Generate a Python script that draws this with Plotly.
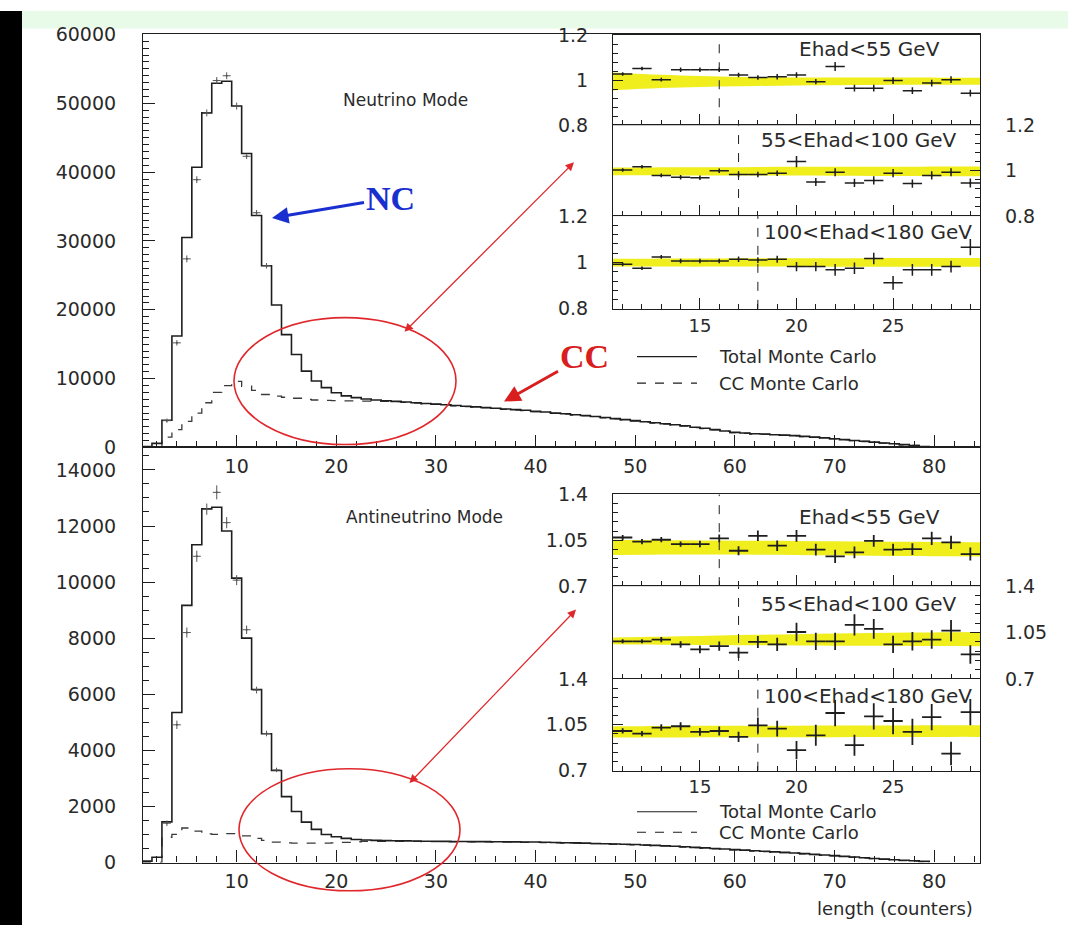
import plotly.graph_objects as go

W, H = 1068, 936


def px(x):
    return x / W


def py(y):
    return 1 - y / H


# ---------------- data ----------------
bins = list(range(1, 80))

top_total = [150, 600, 3950, 16200, 30500, 40700, 48600, 52900, 53200, 49600,
             42700, 33700, 26400, 20700, 16400, 13500, 11100, 9650, 8700, 7950,
             7500, 7250, 7050, 6900, 6800, 6700, 6600, 6500, 6400, 6300,
             6200, 6100, 6000, 5900, 5800, 5700, 5600, 5500, 5400, 5250,
             5150, 5000, 4900, 4750, 4650, 4500, 4350, 4200, 4050, 3900,
             3750, 3600, 3450, 3300, 3150, 2950, 2800, 2600, 2400, 2200,
             2100, 2000, 1950, 1850, 1800, 1720, 1620, 1500, 1400, 1270,
             1150, 1020, 900, 780, 660, 540, 420, 300, 150]

top_cc = [0, 100, 1500, 2600, 3800, 5000, 6500, 8000, 9000, 9600,
          8900, 8300, 7700, 7450, 7300, 7150, 7000, 6900, 6850, 6800,
          6780, 6760, 6740, 6720, 6700, 6650, 6550, 6450, 6350, 6250,
          6150, 6050, 5950, 5850, 5750, 5650, 5550, 5450, 5350, 5200,
          5100, 4950, 4850, 4700, 4600, 4450, 4300, 4150, 4000, 3850,
          3700, 3550, 3400, 3250, 3100, 2900, 2750, 2550, 2350, 2150,
          2050, 1950, 1900, 1800, 1750, 1680, 1580, 1460, 1360, 1240,
          1120, 990, 870, 750, 640, 520, 400, 290, 140]

bot_total = [50, 185, 1450, 5350, 9170, 11330, 12610, 12670, 11820, 10140,
             8000, 6170, 4590, 3280, 2350, 1820, 1440, 1180, 1000, 920,
             860, 820, 800, 790, 780, 775, 770, 765, 760, 760,
             755, 750, 750, 745, 745, 740, 740, 735, 730, 730,
             720, 715, 705, 700, 690, 680, 670, 660, 650, 640,
             625, 610, 595, 580, 560, 540, 520, 500, 480, 460,
             440, 420, 400, 380, 360, 340, 315, 290, 265, 245,
             220, 195, 170, 145, 120, 100, 80, 60, 40]

bot_cc = [0, 0, 900, 1000, 1230, 1120, 1020, 1000, 1030, 1030,
          950, 860, 790, 730, 700, 690, 690, 690, 690, 700,
          720, 740, 750, 750, 750, 750, 750, 750, 745, 745,
          740, 740, 740, 735, 735, 730, 730, 725, 720, 720,
          710, 705, 695, 690, 680, 670, 660, 650, 640, 630,
          615, 600, 585, 570, 550, 530, 510, 490, 470, 450,
          430, 410, 390, 370, 350, 330, 305, 280, 255, 235,
          210, 185, 160, 135, 110, 90, 70, 50, 30]

top_data_bins = [3, 4, 5, 6, 7, 8, 9, 10, 11, 12, 13]
top_data = [3900, 15200, 27400, 38900, 48600, 53300, 54000, 49600, 42300, 34100, 26400]
top_data_err = [300, 400, 500, 500, 500, 500, 500, 500, 400, 400, 400]

bot_data_bins = [3, 4, 5, 6, 7, 8, 9, 10, 11, 12, 13, 14]
bot_data = [1400, 4910, 8200, 10920, 12600, 13200, 12120, 10070, 8300, 6150, 4600, 3300]
bot_data_err = [100, 150, 180, 200, 200, 250, 200, 180, 150, 120, 100, 80]

# ratio insets (data / MC)
ratio_bins = list(range(11, 30))

nu_low = [1.028, 1.053, 1.003, 1.047, 1.047, 1.047, 1.024, 1.013, 1.016, 1.024,
          0.994, 1.062, 0.965, 0.965, 0.999, 0.954, 0.988, 1.003, 0.943]
nu_low_err = [0.008, 0.008, 0.008, 0.01, 0.01, 0.01, 0.01, 0.01, 0.012, 0.012,
              0.012, 0.02, 0.015, 0.015, 0.015, 0.015, 0.015, 0.015, 0.015]
nu_mid = [1.003, 1.017, 0.979, 0.971, 0.969, 1.0, 0.983, 0.983, 0.989, 1.04,
          0.95, 0.993, 0.946, 0.957, 0.989, 0.943, 0.979, 0.993, 0.946]
nu_mid_err = [0.008, 0.008, 0.008, 0.01, 0.01, 0.01, 0.012, 0.012, 0.012, 0.025,
              0.018, 0.018, 0.018, 0.018, 0.018, 0.018, 0.018, 0.018, 0.02]
nu_high = [0.992, 0.975, 1.024, 1.006, 1.006, 1.006, 1.014, 1.01, 1.014, 0.982,
           0.982, 0.968, 0.975, 1.017, 0.912, 0.968, 0.968, 0.982, 1.066]
nu_high_err = [0.008, 0.008, 0.008, 0.01, 0.01, 0.01, 0.012, 0.012, 0.015, 0.02,
               0.02, 0.025, 0.025, 0.025, 0.03, 0.025, 0.025, 0.025, 0.035]

anu_low = [1.071, 1.039, 1.054, 1.021, 1.021, 1.064, 0.970, 1.084, 1.009, 1.084,
           0.978, 0.927, 0.958, 1.046, 0.978, 0.983, 1.064, 1.034, 0.945]
anu_low_err = [0.02, 0.02, 0.02, 0.02, 0.025, 0.03, 0.035, 0.04, 0.04, 0.045,
               0.045, 0.05, 0.045, 0.045, 0.045, 0.045, 0.05, 0.05, 0.05]
anu_mid = [0.984, 0.984, 0.997, 0.96, 0.923, 0.947, 0.898, 0.979, 0.96, 1.054,
           0.984, 0.984, 1.108, 1.078, 0.96, 0.984, 0.997, 1.064, 0.885]
anu_mid_err = [0.015, 0.015, 0.02, 0.025, 0.03, 0.035, 0.04, 0.045, 0.05, 0.07,
               0.065, 0.065, 0.08, 0.075, 0.065, 0.07, 0.07, 0.08, 0.07]
anu_high = [1.003, 0.983, 1.029, 1.039, 0.996, 1.003, 0.958, 1.046, 1.021, 0.857,
            0.97, 1.14, 0.895, 1.114, 1.079, 0.996, 1.109, 0.831, 1.147]
anu_high_err = [0.02, 0.02, 0.025, 0.03, 0.03, 0.035, 0.04, 0.06, 0.06, 0.07,
                0.08, 0.1, 0.08, 0.1, 0.1, 0.1, 0.1, 0.09, 0.1]

# systematic bands (yellow)
band_x = [10.5, 12, 14, 16, 18, 20, 22, 24, 26, 28, 29.5]
nu_low_band_lo = [0.955, 0.962, 0.968, 0.972, 0.975, 0.977, 0.978, 0.979, 0.98, 0.98, 0.98]
nu_low_band_hi = [1.035, 1.028, 1.022, 1.017, 1.014, 1.013, 1.013, 1.013, 1.013, 1.012, 1.012]
nu_mid_band_lo = [0.98, 0.98, 0.979, 0.979, 0.979, 0.979, 0.978, 0.977, 0.976, 0.975, 0.975]
nu_mid_band_hi = [1.014, 1.014, 1.015, 1.015, 1.016, 1.017, 1.017, 1.017, 1.017, 1.018, 1.018]
nu_high_band_lo = [0.983, 0.983, 0.982, 0.982, 0.982, 0.982, 0.981, 0.981, 0.981, 0.981, 0.981]
nu_high_band_hi = [1.016, 1.016, 1.017, 1.017, 1.018, 1.018, 1.018, 1.018, 1.019, 1.019, 1.019]
anu_low_band_lo = [0.938, 0.94, 0.942, 0.942, 0.94, 0.938, 0.935, 0.932, 0.93, 0.928, 0.927]
anu_low_band_hi = [1.054, 1.052, 1.05, 1.048, 1.046, 1.044, 1.042, 1.04, 1.038, 1.036, 1.034]
anu_mid_band_lo = [0.962, 0.96, 0.958, 0.956, 0.954, 0.952, 0.951, 0.95, 0.949, 0.948, 0.947]
anu_mid_band_hi = [1.012, 1.016, 1.022, 1.028, 1.033, 1.038, 1.042, 1.046, 1.05, 1.053, 1.054]
anu_high_band_lo = [0.953, 0.953, 0.954, 0.955, 0.955, 0.956, 0.956, 0.957, 0.957, 0.958, 0.958]
anu_high_band_hi = [1.039, 1.04, 1.041, 1.042, 1.042, 1.043, 1.044, 1.045, 1.045, 1.046, 1.046]

ratio_labels = ["Ehad&lt;55 GeV", "55&lt;Ehad&lt;100 GeV", "100&lt;Ehad&lt;180 GeV"]
cut_positions = [16, 17, 18]

nu_range = [0.8, 1.2]
nu_ticks = [0.8, 1.0, 1.2]
nu_ticktext = ["0.8", "1", "1.2"]
anu_range = [0.7, 1.4]
anu_ticks = [0.7, 1.05, 1.4]
anu_ticktext = ["0.7", "1.05", "1.4"]

# ---------------- style ----------------
INK = "#1e1e1e"
TXT = "#2a2a2a"
RED = "#e0282c"
YELLOW = "#f0ee1c"
FONT = "DejaVu Sans"

fig = go.Figure()


def hist_xy(centers, values):
    edges = [c - 0.5 for c in centers] + [centers[-1] + 0.5]
    return [edges[0]] + edges, [0] + list(values) + [0]


def add_main(xa, ya, total, cc, dbins, dvals, derr):
    x, y = hist_xy(bins, cc)
    fig.add_trace(go.Scatter(x=x, y=y, mode="lines", xaxis=xa, yaxis=ya,
                             line=dict(color="#3a3a3a", width=1.3, dash="dash", shape="hv"),
                             hoverinfo="skip", showlegend=False))
    x, y = hist_xy(bins, total)
    fig.add_trace(go.Scatter(x=x, y=y, mode="lines", xaxis=xa, yaxis=ya,
                             line=dict(color=INK, width=1.6, shape="hv"),
                             hoverinfo="skip", showlegend=False))
    fig.add_trace(go.Scatter(x=dbins, y=dvals, mode="markers", xaxis=xa, yaxis=ya,
                             marker=dict(size=2, color="#555"),
                             error_y=dict(type="data", array=derr, width=0, thickness=1, color="#555"),
                             error_x=dict(type="constant", value=0.4, width=0, thickness=1, color="#555"),
                             hoverinfo="skip", showlegend=False))


add_main("x", "y", top_total, top_cc, top_data_bins, top_data, top_data_err)
add_main("x2", "y2", bot_total, bot_cc, bot_data_bins, bot_data, bot_data_err)


def add_ratio(n, vals, errs, lo, hi, cut, yr, thick):
    xa, ya = "x%d" % n, "y%d" % n
    fig.add_trace(go.Scatter(x=band_x, y=lo, mode="lines", xaxis=xa, yaxis=ya,
                             line=dict(width=0, shape="spline", color=YELLOW),
                             hoverinfo="skip", showlegend=False))
    fig.add_trace(go.Scatter(x=band_x, y=hi, mode="lines", xaxis=xa, yaxis=ya, fill="tonexty",
                             fillcolor=YELLOW, line=dict(width=0, shape="spline", color=YELLOW),
                             hoverinfo="skip", showlegend=False))
    fig.add_trace(go.Scatter(x=[cut, cut], y=yr, mode="lines", xaxis=xa, yaxis=ya,
                             line=dict(color=INK, width=1, dash="dash"),
                             hoverinfo="skip", showlegend=False))
    fig.add_trace(go.Scatter(x=ratio_bins, y=vals, mode="markers", xaxis=xa, yaxis=ya,
                             marker=dict(size=2, color=INK),
                             error_y=dict(type="data", array=errs, width=0, thickness=thick, color=INK),
                             error_x=dict(type="constant", value=0.5, width=0, thickness=thick, color=INK),
                             hoverinfo="skip", showlegend=False))


add_ratio(3, nu_low, nu_low_err, nu_low_band_lo, nu_low_band_hi, cut_positions[0], nu_range, 1.5)
add_ratio(4, nu_mid, nu_mid_err, nu_mid_band_lo, nu_mid_band_hi, cut_positions[1], nu_range, 1.5)
add_ratio(5, nu_high, nu_high_err, nu_high_band_lo, nu_high_band_hi, cut_positions[2], nu_range, 1.5)
add_ratio(6, anu_low, anu_low_err, anu_low_band_lo, anu_low_band_hi, cut_positions[0], anu_range, 1.8)
add_ratio(7, anu_mid, anu_mid_err, anu_mid_band_lo, anu_mid_band_hi, cut_positions[1], anu_range, 1.8)
add_ratio(8, anu_high, anu_high_err, anu_high_band_lo, anu_high_band_hi, cut_positions[2], anu_range, 1.8)

# ---------------- axes ----------------
tickfont = dict(family=FONT, size=19, color=TXT)
inset_font = dict(family=FONT, size=18, color=TXT)
base = dict(showline=True, linecolor=INK, linewidth=1.2, mirror=True, ticks="inside",
            tickcolor=INK, tickwidth=1, showgrid=False, zeroline=False, tickfont=tickfont)

main_x = dict(base, domain=[px(143), px(980)], range=[0.6, 84.6], tick0=0, dtick=10, ticklen=12,
              minor=dict(tick0=0, dtick=2, ticklen=6, ticks="inside", tickcolor=INK),
              ticklabelstandoff=2)
layout_axes = {
    "xaxis": dict(main_x, anchor="y"),
    "yaxis": dict(base, domain=[py(447), py(24)], range=[0, 60000], dtick=10000, ticklen=12,
                  tickformat="d", anchor="x", ticklabelstandoff=22,
                  minor=dict(dtick=1000, ticklen=6, ticks="inside", tickcolor=INK)),
    "xaxis2": dict(main_x, anchor="y2"),
    "yaxis2": dict(base, domain=[py(872), py(447)], range=[0, 14800], dtick=2000, ticklen=12,
                   tickformat="d", anchor="x2", ticklabelstandoff=22,
                   minor=dict(dtick=500, ticklen=6, ticks="inside", tickcolor=INK)),
}

inset_rows = {3: (25, 117), 4: (117, 210), 5: (210, 305),
              6: (495, 589), 7: (589, 684), 8: (684, 778)}
for n, (t, b) in inset_rows.items():
    nu = n <= 5
    yr = nu_range if nu else anu_range
    tv = nu_ticks if nu else anu_ticks
    tt = nu_ticktext if nu else anu_ticktext
    step = (yr[1] - yr[0]) / 10
    layout_axes["xaxis%d" % n] = dict(base, domain=[px(613), px(980)], range=[10.5, 29.5],
                                      anchor="y%d" % n, tick0=0, dtick=5, ticklen=11,
                                      tickfont=inset_font,
                                      minor=dict(tick0=0, dtick=1, ticklen=5, ticks="inside", tickcolor=INK),
                                      showticklabels=(n in (5, 8)), ticklabelstandoff=0)
    layout_axes["yaxis%d" % n] = dict(base, domain=[py(b), py(t)], range=yr, anchor="x%d" % n,
                                      tickvals=tv, ticktext=tt, ticklen=10,
                                      side="right" if n in (4, 7) else "left",
                                      minor=dict(tick0=yr[0], dtick=step, ticklen=5, ticks="inside",
                                                 tickcolor=INK),
                                      ticklabelstandoff=20)

# ---------------- annotations ----------------
ann = []


def text(x, y, s, size=18, color=TXT, family=FONT, xanchor="center"):
    ann.append(dict(x=px(x), y=py(y), xref="paper", yref="paper", text=s,
                    showarrow=False, xanchor=xanchor, yanchor="middle",
                    font=dict(family=family, size=size, color=color)))


text(405, 91, "Neutrino Mode", 17)
text(425, 518, "Antineutrino Mode", 17)
for lab, yy, xx in zip(ratio_labels, [39, 132, 226], [797, 759, 762]):
    text(xx, yy, lab, 20, xanchor="left")
for lab, yy, xx in zip(ratio_labels, [518, 607, 701], [797, 759, 762]):
    text(xx, yy, lab, 20, xanchor="left")
for yy1, yy2 in [(354, 381), (820, 841)]:
    text(717, yy1, "Total Monte Carlo", 18, xanchor="left")
    text(717, yy2, "CC Monte Carlo", 18, xanchor="left")
text(895, 919, "length (counters)", 18)

# NC / CC arrows
ann.append(dict(x=px(272), y=py(212), xref="paper", yref="paper", text="<b>NC</b>",
                showarrow=True, ax=118, ay=-20, arrowhead=2, arrowsize=1.1, arrowwidth=3,
                arrowcolor="#1a2fd0", font=dict(family="Liberation Serif", size=34, color="#1a2fd0")))
ann.append(dict(x=px(504), y=py(400), xref="paper", yref="paper", text="<b>CC</b>",
                showarrow=True, ax=80, ay=-45, arrowhead=2, arrowsize=1.1, arrowwidth=3,
                arrowcolor="#d81e1e", font=dict(family="Liberation Serif", size=34, color="#d81e1e")))
# double arrows ellipse <-> inset
for (x0, y0, x1, y1) in [(403, 326, 574, 155), (408, 788, 576, 613)]:
    ann.append(dict(x=px(x1), y=py(y1), xref="paper", yref="paper", text="",
                    showarrow=True, ax=x0 - x1, ay=y0 - y1, arrowhead=2, startarrowhead=2,
                    arrowside="end+start", arrowsize=1.3, startarrowsize=1.3, arrowwidth=1.3,
                    arrowcolor=RED))

# ---------------- shapes ----------------
shapes = [
    dict(type="rect", xref="paper", yref="paper", x0=0, x1=1, y0=py(18), y1=1,
         fillcolor="#e8fae8", line=dict(width=0), layer="below"),
    dict(type="rect", xref="paper", yref="paper", x0=0, x1=px(22), y0=0, y1=1,
         fillcolor="black", line=dict(width=0)),
    dict(type="circle", xref="paper", yref="paper", x0=px(234), x1=px(456), y0=py(444), y1=py(314),
         line=dict(color=RED, width=1.6)),
    dict(type="circle", xref="paper", yref="paper", x0=px(239), x1=px(460), y0=py(901), y1=py(776),
         line=dict(color=RED, width=1.6)),
]
for yy1, yy2 in [(354, 381), (820, 841)]:
    shapes.append(dict(type="line", xref="paper", yref="paper", x0=px(637), x1=px(697),
                       y0=py(yy1), y1=py(yy1), line=dict(color=INK, width=1.2)))
    shapes.append(dict(type="line", xref="paper", yref="paper", x0=px(637), x1=px(697),
                       y0=py(yy2), y1=py(yy2), line=dict(color=INK, width=1.2, dash="dash")))

fig.update_layout(width=W, height=H, margin=dict(l=0, r=0, t=0, b=0),
                  paper_bgcolor="white", plot_bgcolor="white", showlegend=False,
                  annotations=ann, shapes=shapes, **layout_axes)

fig.write_html("out.html")
